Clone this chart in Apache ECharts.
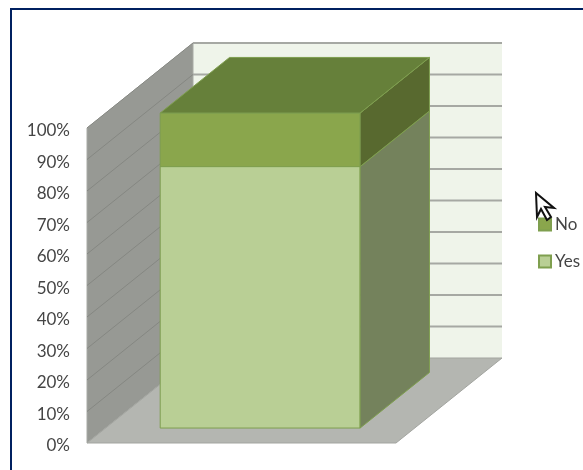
<!DOCTYPE html>
<html><head><meta charset="utf-8">
<style>html,body{margin:0;padding:0;background:#fff}#c{width:583px;height:470px}</style>
<script src="https://cdn.jsdelivr.net/npm/echarts@6/dist/echarts.min.js"></script>
</head><body><div id="c"></div>
<script>
const categories = ['Response'];
const yesValues = [83];
const noValues = [17];
const tickValues = [0,10,20,30,40,50,60,70,80,90,100];
const seriesNames = ['No','Yes'];

const DX = 106, DY = -85, BAR_D0 = 0.176, BAR_D1 = 0.83, BAR_W = 0.647;

function poly(pts, fill, stroke, lw){
  return {type:'polygon', shape:{points:pts}, style:{fill:fill, stroke:stroke||null, lineWidth:lw||0}};
}
function seg(a,b,stroke,lw){
  return {type:'line', shape:{x1:a[0],y1:a[1],x2:b[0],y2:b[1]}, style:{stroke:stroke, lineWidth:lw}};
}
function renderFrame(params, api){
  const cs = params.coordSys;
  const x0 = cs.x, x1 = cs.x + cs.width;
  const y0 = api.coord([0,0])[1], yT = api.coord([0,100])[1];
  const kids = [];
  kids.push(poly([[x0+DX,yT+DY],[x1+DX,yT+DY],[x1+DX,y0+DY],[x0+DX,y0+DY]],'#eff4ea'));
  kids.push(poly([[x0,y0],[x0+DX,y0+DY],[x0+DX,yT+DY],[x0,yT]],'#979994','#a8aaa5',1));
  kids.push(poly([[x0,y0],[x1,y0],[x1+DX,y0+DY],[x0+DX,y0+DY]],'#b4b6b1','#a3a5a0',1));
  tickValues.forEach(t=>{
    if(t===0) return;
    const y = api.coord([0,t])[1];
    kids.push(seg([x0,y],[x0+DX,y+DY],'#858782',1));
    kids.push(seg([x0+DX,y+DY],[x1+DX,y+DY],'#a6a8a3',2));
  });
  return {type:'group', children:kids};
}
function makeBar(faces, withTop){
  return function(params, api){
    const base = api.value(1), top = api.value(2);
    const c = api.coord([api.value(0),0]);
    const w = api.size([1,0])[0]*BAR_W;
    const ox = DX*BAR_D0, oy = DY*BAR_D0;
    const ddx = DX*(BAR_D1-BAR_D0), ddy = DY*(BAR_D1-BAR_D0);
    const l = c[0]-w/2+ox, r = c[0]+w/2+ox;
    const yb = api.coord([0,base])[1]+oy, yt = api.coord([0,top])[1]+oy;
    const edge = '#7f9f4f';
    const kids = [
      poly([[l,yb],[r,yb],[r,yt],[l,yt]],faces.front,edge,1),
      poly([[r,yb],[r+ddx,yb+ddy],[r+ddx,yt+ddy],[r,yt]],faces.side,edge,1)
    ];
    if(withTop) kids.push(poly([[l,yt],[r,yt],[r+ddx,yt+ddy],[l+ddx,yt+ddy]],faces.top,edge,1));
    return {type:'group', children:kids};
  };
}
const chart = echarts.init(document.getElementById('c'),null,{renderer:'canvas'});
chart.setOption({
  animation:false,
  backgroundColor:'#ffffff',
  textStyle:{fontFamily:'Lato'},
  grid:{left:87,right:187,top:128,bottom:27,containLabel:false},
  legend:{
    data:seriesNames, orient:'vertical', left:538, top:216, padding:0, itemWidth:12, itemHeight:12, itemGap:20,
    icon:'rect', textStyle:{fontFamily:'Lato',fontSize:17,color:'#454545',padding:[0,0,0,-1]},
    selectedMode:false
  },
  xAxis:{type:'category',data:categories,show:false},
  yAxis:{type:'value',min:0,max:100,interval:10,
    axisLine:{show:false},axisTick:{show:false},splitLine:{show:false},
    axisLabel:{formatter:'{value}%',margin:17,color:'#454545',fontFamily:'Lato',fontSize:17,lineHeight:6,verticalAlign:'top'}},
  series:[
    {type:'custom',name:'frame',silent:true,renderItem:renderFrame,data:[[0,0]],z:1,clip:false},
    {type:'custom',name:'Yes',renderItem:makeBar({front:'#b9cf95',side:'#74825c'},false),
      data:categories.map((c,i)=>[i,0,yesValues[i]]),encode:{x:0,y:[1,2]},z:2,clip:false,
      itemStyle:{color:'#b9cf95',borderColor:'#7f9f4f',borderWidth:1}},
    {type:'custom',name:'No',renderItem:makeBar({front:'#8aa64c',side:'#58692f',top:'#66803a'},true),
      data:categories.map((c,i)=>[i,yesValues[i],yesValues[i]+noValues[i]]),encode:{x:0,y:[1,2]},z:3,clip:false,
      itemStyle:{color:'#8aa64c',borderColor:'#7f9f4f',borderWidth:1}}
  ],
  graphic:[
    {type:'rect',shape:{x:11,y:9,width:640,height:540},style:{fill:'transparent',stroke:'#002060',lineWidth:2},z:10,silent:true},
    {type:'polygon',z:11,silent:true,shape:{points:[[536,193],[537,217],[541,209],[547,220],[551,217],[545,207],[554,208]]},
      style:{fill:'#ffffff',stroke:'#111111',lineWidth:2}}
  ]
});
</script></body></html>
